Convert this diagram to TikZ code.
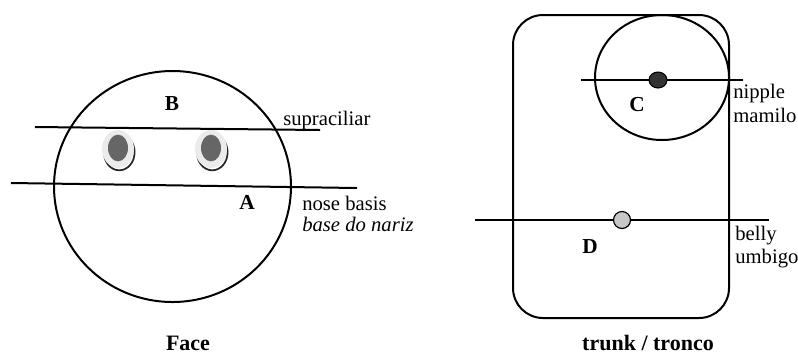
\documentclass[tikz,border=0pt]{standalone}
\usepackage{fontspec}
\setmainfont{Liberation Serif}
\usetikzlibrary{shapes.geometric}
\begin{document}
\begin{tikzpicture}[x=0.75pt,y=-0.75pt,
  outline/.style={draw=black, line width=1.5pt, inner sep=0pt},
  cutline/.style={draw=black, line width=1.5pt},
  label/.style={font=\fontsize{15.5}{18}\selectfont, anchor=base west, inner sep=0pt},
  letter/.style={font=\fontsize{16}{19}\selectfont\bfseries, inner sep=0pt},
  caption/.style={font=\fontsize{16.5}{19}\selectfont\bfseries, inner sep=0pt},
  eyering/.style={ellipse, fill=black!8, minimum width=24pt, minimum height=28.5pt, inner sep=0pt},
  eyeball/.style={ellipse, fill=black!60, minimum width=15pt, minimum height=20pt, inner sep=0pt},
  nipdot/.style={ellipse, draw=black, line width=0.8pt, fill=black!80, minimum width=13.5pt, minimum height=12pt, inner sep=0pt},
  bellydot/.style={circle, draw=black, line width=0.9pt, fill=black!22, minimum size=12.75pt, inner sep=0pt}]
\useasboundingbox (0,0) rectangle (798,355);

% ---- face ----
\node[outline, ellipse, minimum width=177.75pt, minimum height=173.25pt] (face) at (172.5,186.5) {};

% eyes: pale ring, grey iris, dark shadow on the lower right
\foreach \nm/\ex/\ey in {leye/118/149, reye/211/149}{
  \draw[black!85, line width=1.3pt] (\ex+1.5,\ey+2) ++(-100:1pt)
     ellipse [x radius=11.5pt, y radius=13.5pt];
  \node[eyering] (\nm ring) at (\ex,\ey) {};
  \node[eyeball] (\nm) at (\ex,\ey-1) {};
}

% reference lines
\coordinate (sup-l) at (35,127);
\coordinate (sup-r) at (320,130);
\coordinate (nose-l) at (11,183);
\coordinate (nose-r) at (357,188);
\draw[cutline] (sup-l) -- (sup-r);
\draw[cutline] (nose-l) -- (nose-r);

\node[letter] (B) at (172,104) {B};
\node[letter] (A) at (247,202) {A};
\node[label] (suplab) at (283,125) {supraciliar};
\node[label] (noselab) at (302,210) {nose basis};
\node[label] (noselabpt) at (302,231) {\textit{base do nariz}};
\node[caption] (facecap) at (188,343) {Face};

% ---- trunk ----
\node[outline, rectangle, rounded corners=22.5pt, minimum width=162pt, minimum height=227.25pt] (trunk) at (621,166.5) {};
\node[outline, ellipse, minimum width=100.5pt, minimum height=93.75pt] (breast) at (662,77.5) {};

\coordinate (nip-l) at (581,80);
\coordinate (nip-r) at (743,80);
\coordinate (bel-l) at (475,220);
\coordinate (bel-r) at (769,220);
\draw[cutline] (nip-l) -- (nip-r);
\draw[cutline] (bel-l) -- (bel-r);
\node[nipdot] (nipple) at (658,80) {};
\node[bellydot] (navel) at (622,220) {};

\node[letter] (C) at (637,105) {C};
\node[letter] (D) at (590,247) {D};
\node[label] (niplab) at (733,98) {nipple};
\node[label] (niplabpt) at (733,122) {mamilo};
\node[label] (bellab) at (735,240) {belly};
\node[label] (bellabpt) at (735,263) {umbigo};
\node[caption] (trunkcap) at (648,343) {trunk / tronco};
\end{tikzpicture}
\end{document}
